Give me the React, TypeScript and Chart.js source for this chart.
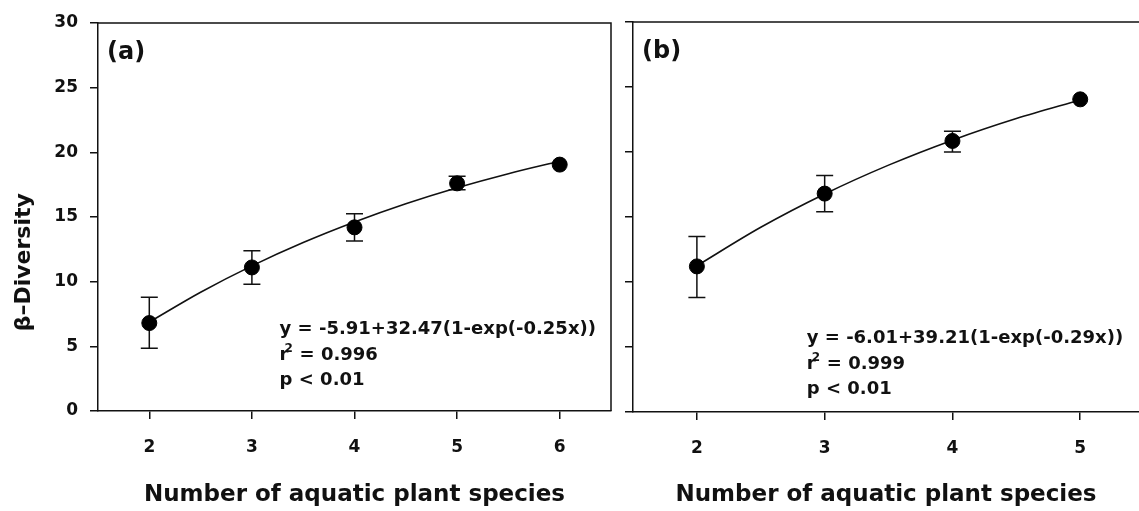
import React, { useEffect, useRef } from "react";
import { Chart, registerables } from "chart.js";

Chart.register(...registerables);

// ---------- data ----------
const yTicks = [0, 5, 10, 15, 20, 25, 30];

// panel (a)
const xTicksA = [2, 3, 4, 5, 6];
const speciesA = [2, 3, 4, 5, 6];
const betaA = [6.8, 11.1, 14.2, 17.6, 19.05];
const lowA = [4.85, 9.8, 13.15, 17.1, 19.05];
const highA = [8.8, 12.4, 15.25, 18.15, 19.05];
const fitXA = [2, 2.5, 3, 3.5, 4, 4.5, 5, 5.5, 6];
const fitYA = [6.87, 9.18, 11.22, 13.02, 14.61, 16.02, 17.26, 18.35, 19.31];
const eqA = "y = -5.91+32.47(1-exp(-0.25x))";
const r2A = "0.996";
const pA = "p < 0.01";

// panel (b)
const xTicksB = [2, 3, 4, 5];
const speciesB = [2, 3, 4, 5];
const betaB = [11.2, 16.8, 20.85, 24.05];
const lowB = [8.8, 15.4, 20.0, 24.05];
const highB = [13.5, 18.2, 21.6, 24.05];
const fitXB = [2, 2.5, 3, 3.5, 4, 4.5, 5];
const fitYB = [11.25, 14.21, 16.77, 18.99, 20.91, 22.57, 24.0];
const eqB = "y = -6.01+39.21(1-exp(-0.29x))";
const r2B = "0.999";
const pB = "p < 0.01";

const xTitle = "Number of aquatic plant species";
const yTitle = "β–Diversity";

// ---------- styling ----------
const FONT = "'DejaVu Sans', sans-serif";
const INK = "#111";

type PanelCfg = {
  label: string;
  xs: number[];
  ys: number[];
  lo: number[];
  hi: number[];
  fx: number[];
  fy: number[];
  xTicks: number[];
  xMin: number;
  xMax: number;
  showY: boolean;
  yWidth: number;
  xHeight: number;
  padTop: number;
  padRight: number;
  rightBorder: boolean;
  eq: string;
  r2: string;
  p: string;
  annX: number;
  annY: number;
};

function panelPlugin(cfg: PanelCfg) {
  return {
    id: "panel" + cfg.label.replace(/[()]/g, ""),
    beforeDatasetsDraw(chart: any) {
      const { ctx, chartArea: a, scales } = chart;
      const sx = scales.x;
      const sy = scales.y;
      ctx.save();
      ctx.strokeStyle = INK;
      ctx.lineWidth = 1.5;
      ctx.beginPath();
      ctx.moveTo(a.left, a.top);
      ctx.lineTo(a.right, a.top);
      if (cfg.rightBorder) ctx.lineTo(a.right, a.bottom);
      ctx.stroke();
      // error bars
      ctx.lineWidth = 1.5;
      for (let i = 0; i < cfg.xs.length; i++) {
        const px = sx.getPixelForValue(cfg.xs[i]);
        const pl = sy.getPixelForValue(cfg.lo[i]);
        const ph = sy.getPixelForValue(cfg.hi[i]);
        if (Math.abs(pl - ph) < 1) continue;
        ctx.beginPath();
        ctx.moveTo(px, pl);
        ctx.lineTo(px, ph);
        ctx.moveTo(px - 8.5, pl);
        ctx.lineTo(px + 8.5, pl);
        ctx.moveTo(px - 8.5, ph);
        ctx.lineTo(px + 8.5, ph);
        ctx.stroke();
      }
      ctx.restore();
    },
    afterDatasetsDraw(chart: any) {
      const { ctx, chartArea: a, scales } = chart;
      const sx = scales.x;
      const sy = scales.y;
      ctx.save();
      ctx.fillStyle = INK;
      // panel label
      ctx.font = `bold 24px ${FONT}`;
      ctx.textAlign = "left";
      ctx.textBaseline = "middle";
      ctx.fillText(cfg.label, a.left + 9, a.top + 30);
      // y title (left panel only)
      if (cfg.showY) {
        ctx.save();
        ctx.translate(24, sy.getPixelForValue(11.5));
        ctx.rotate(-Math.PI / 2);
        ctx.textAlign = "center";
        ctx.textBaseline = "middle";
        ctx.font = `bold 22px ${FONT}`;
        ctx.fillText(yTitle, 0, 0);
        ctx.restore();
      }
      // annotation
      const x0 = sx.getPixelForValue(cfg.annX);
      const y0 = sy.getPixelForValue(cfg.annY);
      ctx.textAlign = "left";
      ctx.textBaseline = "alphabetic";
      ctx.font = `bold 18px ${FONT}`;
      ctx.fillText(cfg.eq, x0, y0);
      const y1 = y0 + 26;
      ctx.fillText("r", x0, y1);
      ctx.font = `bold 12px ${FONT}`;
      ctx.fillText("2", x0 + 5, y1 - 8);
      ctx.font = `bold 18px ${FONT}`;
      ctx.fillText("= " + cfg.r2, x0 + 20, y1);
      ctx.fillText(cfg.p, x0, y0 + 51);
      ctx.restore();
    },
  };
}

function buildChart(canvas: HTMLCanvasElement, cfg: PanelCfg) {
  const tickFont = { family: FONT, size: 17, weight: "bold" as const };
  return new Chart(canvas, {
    type: "scatter",
    data: {
      datasets: [
        {
          data: cfg.xs.map((x, i) => ({ x, y: cfg.ys[i] })),
          backgroundColor: "#000",
          borderColor: "#000",
          pointRadius: 7.5,
          pointHoverRadius: 7.5,
          showLine: false,
          order: 0,
        },
        {
          data: cfg.fx.map((x, i) => ({ x, y: cfg.fy[i] })),
          borderColor: INK,
          borderWidth: 1.6,
          pointRadius: 0,
          showLine: true,
          tension: 0.4,
          cubicInterpolationMode: "monotone",
          fill: false,
          order: 1,
        },
      ],
    },
    options: {
      animation: false,
      responsive: false,
      maintainAspectRatio: false,
      events: [],
      layout: {
        autoPadding: false,
        padding: { top: cfg.padTop, right: cfg.padRight, left: 0, bottom: 0 },
      },
      plugins: { legend: { display: false }, tooltip: { enabled: false } },
      scales: {
        x: {
          type: "linear",
          min: cfg.xMin,
          max: cfg.xMax,
          afterBuildTicks: (s: any) => {
            s.ticks = cfg.xTicks.map((v) => ({ value: v }));
          },
          afterFit: (s: any) => {
            s.height = cfg.xHeight;
            s.paddingLeft = 0;
            s.paddingRight = 0;
          },
          grid: { drawOnChartArea: false, drawTicks: true, tickLength: 8, tickColor: INK, lineWidth: 1.5 },
          border: { display: true, color: INK, width: 1.5 },
          ticks: { font: tickFont, color: INK, padding: 18, maxRotation: 0, autoSkip: false },
          title: {
            display: true,
            text: xTitle,
            color: INK,
            font: { family: FONT, size: 23, weight: "bold" },
            padding: { top: 2, bottom: 2 },
          },
        },
        y: {
          type: "linear",
          min: 0,
          max: 30,
          afterBuildTicks: (s: any) => {
            s.ticks = yTicks.map((v) => ({ value: v }));
          },
          afterFit: (s: any) => {
            s.width = cfg.yWidth;
          },
          grid: { drawOnChartArea: false, drawTicks: true, tickLength: 8, tickColor: INK, lineWidth: 1.5 },
          border: { display: true, color: INK, width: 1.5 },
          ticks: { display: cfg.showY, font: tickFont, color: INK, padding: 12 },
          title: { display: false },
        },
      },
    } as any,
    plugins: [panelPlugin(cfg)],
  });
}

const cfgA: PanelCfg = {
  label: "(a)",
  xs: speciesA,
  ys: betaA,
  lo: lowA,
  hi: highA,
  fx: fitXA,
  fy: fitYA,
  xTicks: xTicksA,
  xMin: 1.5,
  xMax: 6.5,
  showY: true,
  yWidth: 98,
  xHeight: 100,
  padTop: 23,
  padRight: 4,
  rightBorder: true,
  eq: eqA,
  r2: r2A,
  p: pA,
  annX: 3.27,
  annY: 5.95,
};

const cfgB: PanelCfg = {
  label: "(b)",
  xs: speciesB,
  ys: betaB,
  lo: lowB,
  hi: highB,
  fx: fitXB,
  fy: fitYB,
  xTicks: xTicksB,
  xMin: 1.5,
  xMax: 5.46,
  showY: false,
  yWidth: 18,
  xHeight: 99,
  padTop: 22,
  padRight: 0,
  rightBorder: false,
  eq: eqB,
  r2: r2B,
  p: pB,
  annX: 2.86,
  annY: 5.3,
};

export default function App() {
  const refA = useRef<HTMLCanvasElement | null>(null);
  const refB = useRef<HTMLCanvasElement | null>(null);

  useEffect(() => {
    const cA = refA.current ? buildChart(refA.current, cfgA) : null;
    const cB = refB.current ? buildChart(refB.current, cfgB) : null;
    return () => {
      cA?.destroy();
      cB?.destroy();
    };
  }, []);

  return (
    <div
      style={{
        position: "absolute",
        left: 0,
        top: 0,
        width: 1139,
        height: 511,
        background: "#fff",
        overflow: "hidden",
      }}
    >
      <canvas
        ref={refA}
        width={615}
        height={511}
        style={{ position: "absolute", left: 0, top: 0, width: 615, height: 511, display: "block" }}
      />
      <canvas
        ref={refB}
        width={524}
        height={511}
        style={{ position: "absolute", left: 615, top: 0, width: 524, height: 511, display: "block" }}
      />
    </div>
  );
}
